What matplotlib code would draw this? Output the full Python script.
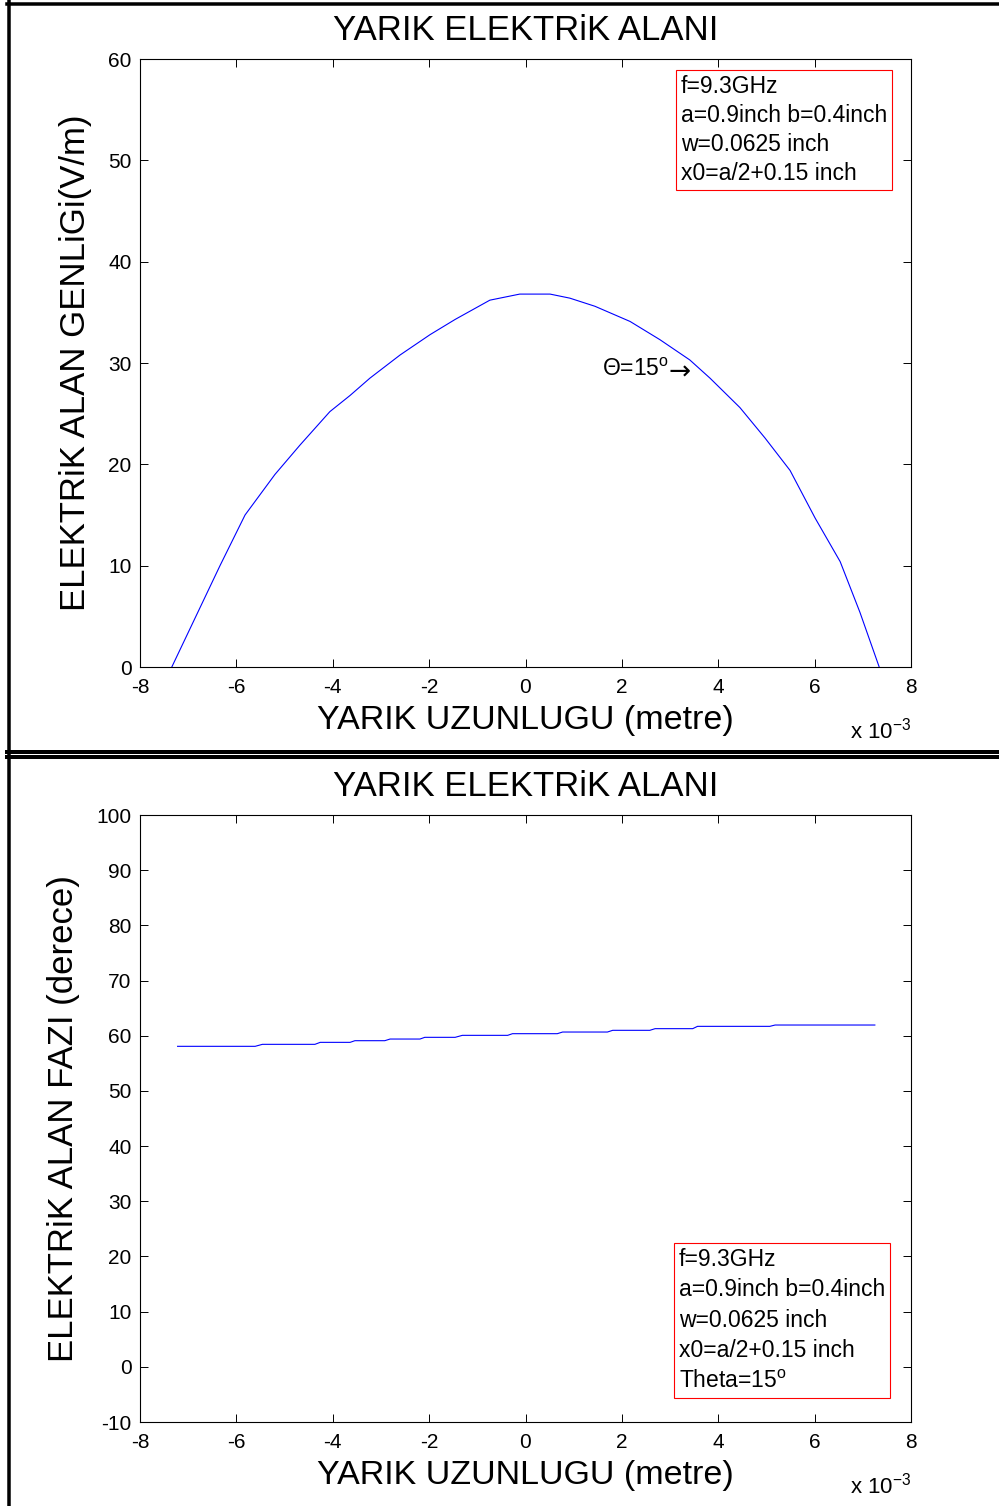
import matplotlib
matplotlib.use("Agg")
import matplotlib.pyplot as plt
from matplotlib.lines import Line2D
from matplotlib.ticker import FuncFormatter

plt.rcParams["font.family"] = ["Liberation Sans", "DejaVu Sans"]
plt.rcParams["mathtext.fontset"] = "custom"
plt.rcParams["mathtext.rm"] = "Liberation Sans"
plt.rcParams["mathtext.it"] = "Liberation Sans"
plt.rcParams["axes.unicode_minus"] = False

# slot position (mm -> plotted in metres) and field amplitude (V/m)
amp_x_mm = [-7.34, -6.34, -5.82, -5.20, -4.68, -4.06, -3.64, -3.23, -2.60, -1.98,
            -1.46, -0.74, -0.12, 0.51, 0.92, 1.44, 2.17, 2.79, 3.41, 3.83,
            4.45, 4.97, 5.49, 6.01, 6.53, 6.94, 7.34]
amp_v = [0.0, 10.0, 15.0, 19.0, 21.9, 25.2, 26.8, 28.5, 30.8, 32.8,
         34.3, 36.2, 36.8, 36.8, 36.4, 35.6, 34.1, 32.3, 30.3, 28.5,
         25.6, 22.6, 19.4, 14.7, 10.4, 5.4, 0.0]

# phase (degrees), read as the plateau edges of the plotted line
phase_x_mm = [-7.22, -5.61, -5.46, -4.37, -4.26, -3.64, -3.54, -2.92, -2.81, -2.19,
              -2.09, -1.46, -1.31, -0.37, -0.27, 0.66, 0.77, 1.70, 1.81, 2.58,
              2.69, 3.47, 3.57, 5.07, 5.18, 7.25]
phase_deg = [58.08, 58.08, 58.44, 58.44, 58.80, 58.80, 59.10, 59.10, 59.40, 59.40,
             59.71, 59.71, 60.07, 60.07, 60.37, 60.37, 60.67, 60.67, 60.98, 60.98,
             61.28, 61.28, 61.70, 61.70, 61.94, 61.94]

xticks_mm = [-8, -6, -4, -2, 0, 2, 4, 6, 8]
title = "YARIK ELEKTRiK ALANI"
xlabel = "YARIK UZUNLUGU (metre)"
info = "f=9.3GHz\na=0.9inch b=0.4inch\nw=0.0625 inch\nx0=a/2+0.15 inch"

W, H = 999, 1506
fig = plt.figure(figsize=(W / 100, H / 100), dpi=100)


def style_axes(ax, ylabel):
    ax.set_xlim(-8e-3, 8e-3)
    ax.set_xticks([v * 1e-3 for v in xticks_mm])
    ax.xaxis.set_major_formatter(FuncFormatter(lambda v, p: "%g" % round(v * 1e3, 6)))
    ax.tick_params(direction="in", top=True, right=True, length=6, width=0.7,
                   labelsize=15, pad=6)
    ax.tick_params(axis="x", pad=8)
    for s in ax.spines.values():
        s.set_linewidth(0.8)
    ax.set_title(title, fontsize=25, pad=14)
    ax.set_xlabel(xlabel, fontsize=24.5, labelpad=6)
    ax.set_ylabel(ylabel, fontsize=25, labelpad=12)
    ax.text(1.0, -0.104, "x 10$^{-3}$", transform=ax.transAxes, ha="right",
            va="center", fontsize=16)


box = dict(boxstyle="square,pad=0.2", fc="white", ec="red", lw=0.8)

# top panel: amplitude
ax1 = fig.add_axes([140 / W, 1 - 667 / H, 771 / W, 608 / H])
ax1.plot([v * 1e-3 for v in amp_x_mm], amp_v, color="blue", lw=0.8)
ax1.set_ylim(0, 60)
ax1.set_yticks(range(0, 61, 10))
style_axes(ax1, "ELEKTRiK ALAN GENLiGi(V/m)")
ax1.text(0.7017, 0.974, info, transform=ax1.transAxes, ha="left", va="top",
         fontsize=16.5, linespacing=1.34, bbox=box)
ax1.text(0.599, 0.4885, "$\\Theta$=15$^{\\rm o}$", transform=ax1.transAxes,
         ha="left", va="center", fontsize=16.5)
ax1.text(0.685, 0.4836, "\u2192", transform=ax1.transAxes, ha="left",
         va="center", fontsize=19, family="DejaVu Sans")

# bottom panel: phase
ax2 = fig.add_axes([140 / W, 1 - 1422 / H, 771 / W, 607 / H])
ax2.plot([v * 1e-3 for v in phase_x_mm], phase_deg, color="blue", lw=0.8)
ax2.set_ylim(-10, 100)
ax2.set_yticks(range(-10, 101, 10))
style_axes(ax2, "ELEKTRiK ALAN FAZI (derece)")
ax2.text(0.699, 0.287, info + "\nTheta=15$^{\\rm o}$", transform=ax2.transAxes,
         ha="left", va="top", fontsize=16.5, linespacing=1.42, bbox=box)


# frame lines around the two panels
def fline(x0, y0, x1, y1, w):
    fig.add_artist(Line2D([x0 / W, x1 / W], [1 - y0 / H, 1 - y1 / H],
                          color="black", lw=w * 0.72, transform=fig.transFigure))


fline(8.5, 0, 8.5, H, 3.5)
fline(7, 3.5, W, 3.5, 3.5)
fline(7, 752, W, 752, 4)
fline(7, 757, W, 757, 4)

fig.savefig("out.png", dpi=100, facecolor="white")
